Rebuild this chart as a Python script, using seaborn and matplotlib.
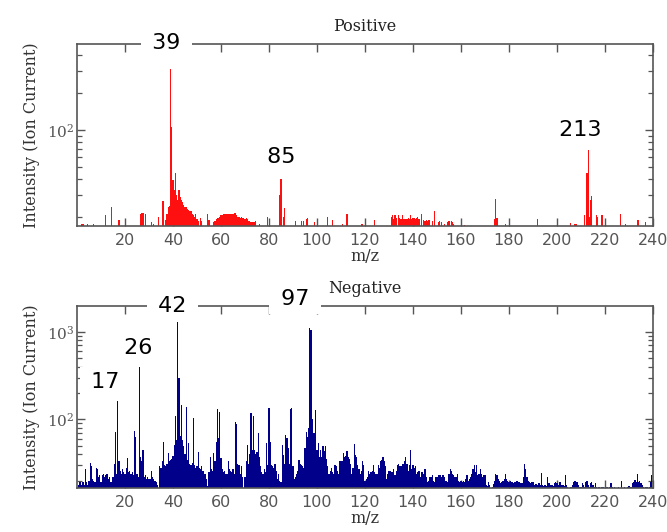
import numpy as np
import pandas as pd
import matplotlib
matplotlib.use("Agg")
import matplotlib.pyplot as plt
from matplotlib.ticker import NullFormatter, LogLocator, FixedLocator
import seaborn as sns

# ---------------------------------------------------------------- data
# Positive-ion spectrum: sparse peak list (m/z, ion current)
pos_mz = [
    2.0, 2.5, 4.5, 7.0, 12.0, 14.5, 17.5, 26.5, 27.0, 27.5,
    28.5, 31.0, 32.0, 34.0, 35.5, 36.0, 37.0, 37.5, 38.0, 38.5,
    39.0, 39.5, 40.0, 40.5, 41.0, 41.5, 42.0, 42.5, 43.0, 43.5,
    44.0, 44.5, 45.0, 45.5, 46.0, 46.5, 47.0, 47.5, 48.0, 48.5,
    49.0, 49.5, 50.0, 50.5, 51.5, 52.0, 54.5, 55.0, 57.0, 57.5,
    58.0, 58.5, 59.0, 59.5, 60.0, 60.5, 61.0, 61.5, 62.0, 62.5,
    63.0, 63.5, 64.0, 64.5, 65.0, 65.5, 66.0, 66.5, 67.0, 67.5,
    68.0, 68.5, 69.0, 69.5, 70.0, 70.5, 71.0, 71.5, 72.0, 72.5,
    73.0, 73.5, 74.0, 74.5, 76.0, 79.5, 84.5, 85.0, 86.0, 86.5,
    91.0, 93.5, 94.5, 95.5, 96.0, 99.0, 104.5, 106.5, 110.5, 112.5,
    118.5, 119.0, 124.0, 131.0, 131.5, 132.0, 132.5, 133.0, 134.0, 134.5,
    135.0, 135.5, 136.0, 136.5, 137.0, 137.5, 138.0, 138.5, 139.0, 139.5,
    140.0, 140.5, 141.0, 141.5, 142.0, 142.5, 143.5, 144.5, 145.0, 145.5,
    146.0, 146.5, 147.0, 148.0, 149.0, 150.5, 151.0, 152.0, 153.0, 154.5,
    155.0, 156.0, 156.5, 157.0, 161.5, 174.0, 174.5, 175.0, 178.5, 192.0,
    205.5, 207.5, 208.0, 211.5, 212.5, 213.0, 213.5, 214.0, 214.5, 216.5,
    217.0, 218.5, 219.0, 226.5, 228.5, 233.5, 234.0, 237.0,
]
pos_intensity = [
    17.5, 17.5, 17.3, 17.3, 20.6, 23.8, 18.8, 21, 21.5, 21.5,
    21, 18, 17.5, 19.8, 26.9, 26.9, 18.8, 21, 24, 24.5,
    310, 105, 39.5, 33, 44.8, 30, 27, 33, 29, 27,
    26, 25, 24, 24, 23, 22.5, 22, 22, 21, 20.5,
    20, 21, 19, 18.5, 19.5, 18.5, 21, 18.8, 18, 18.5,
    19, 19.5, 19.5, 20, 20.5, 20.5, 21, 21, 21, 21,
    21, 21, 21, 21, 21, 21.3, 21.5, 20.5, 20, 20,
    19.5, 20, 19.5, 19.5, 19, 19.5, 19, 18.5, 18.5, 18,
    18, 18, 18, 18.3, 17.3, 20, 29.9, 40, 20, 23.3,
    18.5, 18.5, 18.5, 19, 19.5, 18, 19.8, 18.8, 17.5, 21,
    17.5, 17.5, 18.8, 20, 20.5, 19, 20.5, 19.5, 20.5, 19.5,
    19, 20.5, 19, 19.3, 19, 19.3, 19.5, 19, 20.5, 19,
    19.5, 19.5, 19.3, 19.5, 19.8, 19.3, 21, 18.8, 18.5, 18.8,
    18.5, 18.8, 18.8, 18.5, 22.4, 18, 18.3, 18, 17.5, 18,
    18.3, 18.3, 18, 17.5, 17.2, 19, 27.6, 19.5, 17.3, 19,
    17.8, 17.5, 17.5, 20.5, 44.8, 69, 20, 27, 29.4, 20.5,
    20, 20.5, 20.5, 21, 17.3, 18.8, 18.8, 18,
]

# Negative-ion spectrum: ion current on a 0.5 m/z grid (0.5 ... 240)
neg_mz = np.arange(0.5, 240.01, 0.5)
neg_intensity = [
    18, 19, 19, 18, 19, 18, 27, 19, 18, 20, 32, 29, 21, 20, 19, 28, 27, 22, 23, 19,
    23, 24, 22, 23, 24, 21, 22, 19, 19, 22, 31, 72, 24, 162, 33, 26, 24, 27, 25, 24,
    28, 36, 25, 26, 24, 25, 23, 74, 63, 24, 22, 398, 37, 33, 45, 22, 23, 21, 22, 21,
    21, 26, 22, 21, 20, 19, 18, 0, 29, 28, 33, 55, 30, 29, 31, 41, 33, 34, 35, 38,
    51, 110, 58, 1300, 294, 64, 145, 58, 49, 40, 140, 34, 53, 31, 30, 32, 103, 30, 28, 29,
    42, 28, 27, 29, 26, 24, 24, 21, 17.5, 25, 37, 27, 26, 41, 33, 55, 130, 62, 120, 36,
    27, 25, 26, 24, 24, 33, 27, 26, 25, 27, 24, 93, 88, 31, 30, 24, 29, 22, 0, 22,
    33, 51, 31, 40, 117, 45, 108, 45, 40, 42, 69, 37, 29, 25, 24, 27, 25, 53, 30, 133,
    55, 30, 29, 28, 31, 26, 21, 24, 20, 19, 51, 39, 31, 66, 61, 47, 31, 130, 135, 29,
    21, 22, 24, 26, 34, 31, 30, 29, 28, 47, 72, 63, 80, 1100, 1060, 100, 69, 69, 128, 45,
    54, 37, 45, 37, 49, 43, 49, 35, 29, 24, 26, 28, 25, 24, 30, 29, 26, 24, 33, 33,
    33, 41, 37, 38, 43, 37, 35, 31, 24, 28, 52, 39, 37, 30, 27, 24, 26, 33, 30, 20,
    21, 22, 26, 24, 25, 26, 30, 25, 24, 24, 30, 28, 33, 34, 37, 33, 29, 21, 24, 26,
    26, 25, 25, 27, 23, 26, 30, 31, 29, 29, 31, 31, 33, 37, 31, 26, 30, 45, 27, 30,
    28, 29, 24, 25, 26, 22, 25, 25, 24, 27, 22, 19, 20, 22, 22, 23, 20, 19, 22, 22,
    23, 23, 23, 22, 23, 22, 20, 20, 19, 24, 27, 26, 24, 23, 22, 22, 24, 20, 19, 20,
    19, 20, 19, 21, 23, 20, 21, 22, 24, 27, 30, 25, 30, 23, 24, 27, 24, 22, 23, 23,
    18, 17.5, 19, 18, 0, 17, 18.5, 20, 23.5, 23, 21, 20, 18.6, 19, 20, 21, 23.5, 21, 20, 19,
    20, 19, 19, 18.6, 19, 20, 20, 19, 19, 18.6, 18.8, 22, 31, 27, 22, 20, 19, 18.6, 19, 19,
    18, 18.5, 18.5, 18, 18.8, 18, 24.5, 18, 17.5, 18, 17.5, 22, 18.6, 18.8, 18, 18, 17.5, 18.8, 19, 18.8,
    18, 19, 19, 18, 18, 17.5, 23, 18, 17, 0, 17, 17, 18, 19, 20, 19, 19, 18, 17, 17,
    18.6, 18, 17, 19, 20, 18, 17, 18.6, 19, 18, 17, 18.6, 17, 0, 16.8, 0, 16.8, 17, 17, 0,
    16.8, 17, 0, 17, 18.6, 17, 0, 16.8, 0, 0, 17, 0, 0, 20, 0, 16.8, 0, 0, 17, 17.5,
    17, 17, 18.6, 19, 20.5, 19, 24, 19, 20, 18.6, 18, 17, 0, 17, 17, 0, 17, 19, 23, 0,
]

# Labelled peaks (m/z) and where each label sits (m/z, intensity)
pos_labels = {39: (37.2, 503), 85: (85.0, 60.5), 213: (209.6, 100)}
neg_labels = {17: (11.8, 268), 26: (25.7, 656), 42: (39.8, 1963), 97: (90.8, 2344)}

x_ticks = [20, 40, 60, 80, 100, 120, 140, 160, 180, 200, 220, 240]

assert len(pos_mz) == len(pos_intensity)
assert len(neg_mz) == len(neg_intensity)

pos_df = pd.DataFrame({"mz": pos_mz, "intensity": pos_intensity})
neg_df = pd.DataFrame({"mz": neg_mz, "intensity": neg_intensity})

# ---------------------------------------------------------------- style
sns.set_style("ticks")
frame_col = "#555555"
plt.rcParams.update({
    "font.family": ["DejaVu Sans"],
    "axes.edgecolor": frame_col,
    "axes.linewidth": 1.2,
    "xtick.direction": "in",
    "ytick.direction": "in",
    "xtick.top": True,
    "ytick.right": True,
    "xtick.color": frame_col,
    "ytick.color": frame_col,
})

fig = plt.figure(figsize=(6.67, 5.32), dpi=100)
ax_pos = fig.add_axes([0.1154, 0.5752, 0.8636, 0.3421])
ax_neg = fig.add_axes([0.1154, 0.0821, 0.8636, 0.3432])

panels = [
    (ax_pos, pos_df, "#ff1010", "Positive", (16.8, 494), pos_labels),
    (ax_neg, neg_df, "#00008b", "Negative", (16.3, 1982), neg_labels),
]

for ax, df, color, title, ylim, labels in panels:
    sns.histplot(data=df, x="mz", weights="intensity", binwidth=0.5,
                 binrange=(0.25, 240.25), ax=ax,
                 color=color, alpha=1.0, linewidth=0, edgecolor="none")
    ax.set_yscale("log")
    ax.set_xlim(0, 240)
    ax.set_ylim(*ylim)
    ax.xaxis.set_major_locator(FixedLocator(x_ticks))
    ax.yaxis.set_major_locator(LogLocator(base=10))
    ax.yaxis.set_minor_locator(LogLocator(base=10, subs=np.arange(2, 10)))
    ax.yaxis.set_minor_formatter(NullFormatter())
    ax.tick_params(axis="both", which="major", length=6, width=1.0)
    ax.tick_params(axis="y", which="minor", length=3.5, width=0.9)
    ax.tick_params(axis="x", which="major", labelsize=11.5, labelcolor="#555555", pad=5)
    ax.tick_params(axis="y", which="major", labelsize=11, labelcolor="#555555", pad=2,
                   labelfontfamily="DejaVu Serif")
    ax.set_title(title, family="DejaVu Serif", fontsize=11.5, color="#222222", pad=9)
    ax.set_xlabel("m/z", family="DejaVu Serif", fontsize=11.5, color="#333333", labelpad=0)
    ax.set_ylabel("Intensity (Ion Current)", family="DejaVu Serif", fontsize=11.5,
                  color="#333333", labelpad=5)
    for mz, (lx, ly) in labels.items():
        ax.text(lx, ly, f" {mz} ", ha="center", va="center", fontsize=16,
                color="black", clip_on=False, zorder=6,
                bbox=dict(boxstyle="square,pad=0.2", facecolor="white",
                          edgecolor="none"))

fig.savefig("out.png", dpi=100)
